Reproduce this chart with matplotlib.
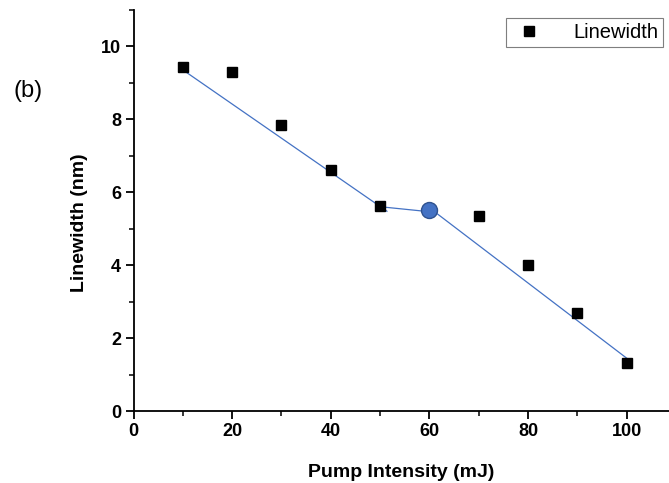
import matplotlib
matplotlib.use("Agg")
import matplotlib.pyplot as plt
from matplotlib.ticker import MultipleLocator

# Data
pump = [10, 20, 30, 40, 50, 70, 80, 90, 100]
linewidth = [9.43, 9.30, 7.85, 6.60, 5.62, 5.34, 4.00, 2.69, 1.32]
highlight_x = [60]
highlight_y = [5.51]
fit1_x = [10.4, 51.4]
fit1_y = [9.32, 5.48]
fit2_x = [50.3, 59.0]
fit2_y = [5.60, 5.48]
fit3_x = [61.5, 100.3]
fit3_y = [5.42, 1.42]

fam = ['Liberation Sans Narrow', 'Liberation Sans', 'DejaVu Sans']
plt.rcParams['font.family'] = fam

fig = plt.figure(figsize=(6.69, 4.83), dpi=100)
ax = fig.add_axes([133.5/669, 1-411/483, (668.5-133.5)/669, (411-10)/483])

blue = '#4472C4'
ax.plot(fit1_x, fit1_y, color=blue, lw=0.9, zorder=2)
ax.plot(fit2_x, fit2_y, color=blue, lw=0.9, zorder=2)
ax.plot(fit3_x, fit3_y, color=blue, lw=0.9, zorder=2)
ax.plot(pump, linewidth, 's', color='black', ms=7, ls='none', label='Linewidth', zorder=3)
ax.plot(highlight_x, highlight_y, 'o', color=blue, mec='#2F528F', mew=1.0, ms=11.5, zorder=4)

ax.set_xlim(0, 108.5)
ax.set_ylim(0, 11)
ax.xaxis.set_major_locator(MultipleLocator(20))
ax.xaxis.set_minor_locator(MultipleLocator(10))
ax.yaxis.set_major_locator(MultipleLocator(2))
ax.yaxis.set_minor_locator(MultipleLocator(1))
for s in ['top', 'right']:
    ax.spines[s].set_visible(False)
for s in ['left', 'bottom']:
    ax.spines[s].set_linewidth(1.3)
ax.tick_params(which='major', direction='out', length=6, width=1.3, labelsize=13, pad=3)
ax.tick_params(which='minor', direction='out', length=3.5, width=1.1)
for lab in ax.get_xticklabels() + ax.get_yticklabels():
    lab.set_fontweight('bold')

ax.set_xlabel('Pump Intensity (mJ)', fontsize=14, fontweight='bold', labelpad=17)
ax.set_ylabel('Linewidth (nm)', fontsize=14, fontweight='bold')
ax.yaxis.set_label_coords(-0.085, 0.47)

fig.text(28/669, 1-91/483, '(b)', fontsize=17, ha='center', va='center',
         family=['Liberation Sans', 'DejaVu Sans'])

leg = ax.legend(loc='upper right', bbox_to_anchor=(663/669, 1-18/483), bbox_transform=fig.transFigure,
                fancybox=False, framealpha=1, edgecolor='#7f7f7f',
                borderpad=0.25, handletextpad=1.3, handlelength=1.8, borderaxespad=0,
                prop={'family': ['Liberation Sans', 'DejaVu Sans'], 'size': 14.5})
leg.get_frame().set_linewidth(0.8)

fig.savefig('out.png', dpi=100)
